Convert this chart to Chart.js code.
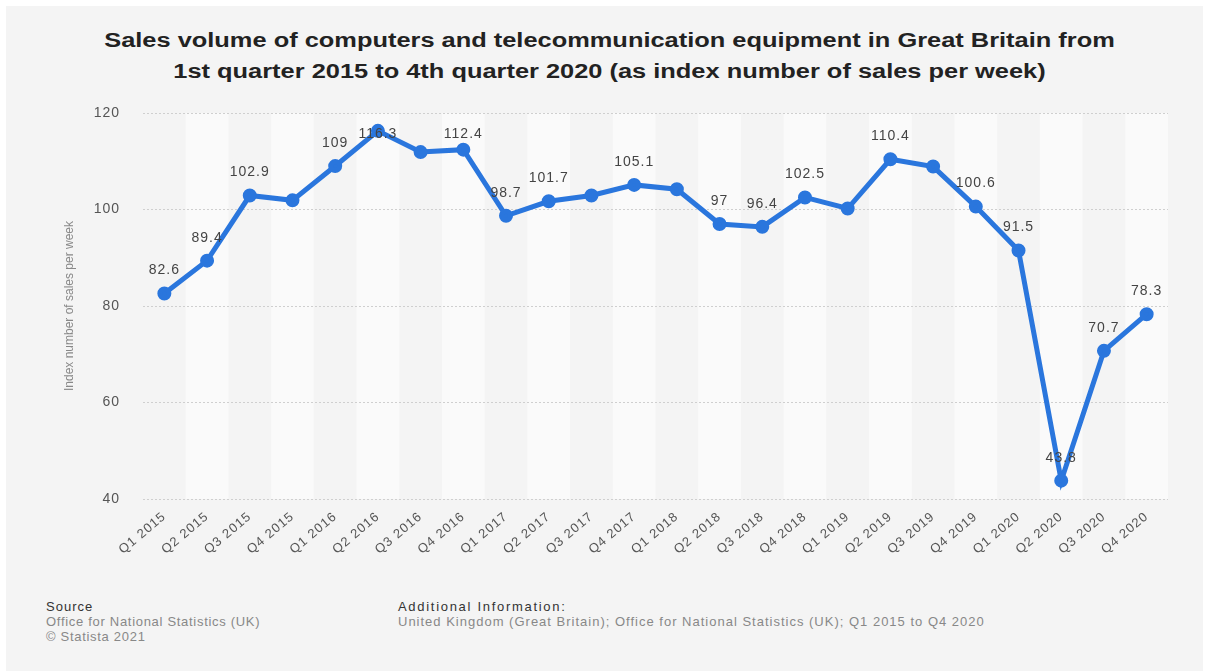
<!DOCTYPE html>
<html>
<head>
<meta charset="utf-8">
<script src="https://cdn.jsdelivr.net/npm/chart.js@4"></script>
<style>
  html, body { margin: 0; padding: 0; background: #fff; }
  #card {
    position: absolute; left: 6px; top: 6px; width: 1197px; height: 665px;
    background: #f4f4f4; font-family: "Liberation Sans", Arial, sans-serif;
  }
  #title {
    position: absolute; left: 5px; top: 19px; width: 1197px; text-align: center;
    font-weight: bold; font-size: 20px; line-height: 31px; color: #222;
    transform: scaleX(1.27); transform-origin: 50% 0;
  }
  #chart-box { position: absolute; left: 0; top: 84px; width: 1197px; height: 479px; }
  .foot { position: absolute; top: 593px; font-size: 13px; line-height: 15px; color: #888; letter-spacing: 0.7px; }
  .foot b { font-weight: normal; color: #333; }
</style>
</head>
<body>
<div id="card">
  <div id="title">Sales volume of computers and telecommunication equipment in Great Britain from<br>1st quarter 2015 to 4th quarter 2020 (as index number of sales per week)</div>
  <div id="chart-box"><canvas id="salesChart"></canvas></div>
  <div class="foot" style="left:40px"><b style="letter-spacing:1px">Source</b><br>Office for National Statistics (UK)<br>© Statista 2021</div>
  <div class="foot" style="left:392px; letter-spacing:1px"><b style="letter-spacing:1.7px">Additional Information:</b><br>United Kingdom (Great Britain); Office for National Statistics (UK); Q1 2015 to Q4 2020</div>
</div>
<script>
const quarters = [
  'Q1 2015', 'Q2 2015', 'Q3 2015', 'Q4 2015',
  'Q1 2016', 'Q2 2016', 'Q3 2016', 'Q4 2016',
  'Q1 2017', 'Q2 2017', 'Q3 2017', 'Q4 2017',
  'Q1 2018', 'Q2 2018', 'Q3 2018', 'Q4 2018',
  'Q1 2019', 'Q2 2019', 'Q3 2019', 'Q4 2019',
  'Q1 2020', 'Q2 2020', 'Q3 2020', 'Q4 2020'
];
const salesIndex = [
  82.6, 89.4, 102.9, 101.9,
  109, 116.3, 111.9, 112.4,
  98.7, 101.7, 102.9, 105.1,
  104.2, 97, 96.4, 102.5,
  100.2, 110.4, 108.9, 100.6,
  91.5, 43.8, 70.7, 78.3
];
// points that carry a value label
const labelledPoints = [0, 1, 2, 4, 5, 7, 8, 9, 11, 13, 14, 15, 17, 19, 20, 21, 22, 23];
const yTicks = [40, 60, 80, 100, 120];

const lineBlue = '#2a76dd';
const fontFamily = '"Liberation Sans", Arial, sans-serif';

// slightly wider lettering for all canvas text
const textSpacing = {
  id: 'textSpacing',
  beforeInit(chart) { chart.ctx.letterSpacing = '1px'; },
  beforeDraw(chart) { chart.ctx.letterSpacing = '1px'; }
};

// lighter stripe behind every second quarter
const columnStripes = {
  id: 'columnStripes',
  beforeDraw(chart) {
    const { ctx, chartArea } = chart;
    const x = chart.scales.x;
    const step = x.getPixelForValue(1) - x.getPixelForValue(0);
    ctx.save();
    ctx.fillStyle = '#fafafa';
    quarters.forEach((q, i) => {
      if (i % 2 === 1) {
        const cx = x.getPixelForValue(i);
        ctx.fillRect(cx - step / 2, chartArea.top, step, chartArea.bottom - chartArea.top);
      }
    });
    ctx.restore();
  }
};

const valueLabels = {
  id: 'valueLabels',
  afterDatasetsDraw(chart) {
    const { ctx, chartArea } = chart;
    const meta = chart.getDatasetMeta(0);
    ctx.save();
    ctx.font = '14px ' + fontFamily;
    ctx.fillStyle = '#444';
    ctx.textAlign = 'center';
    ctx.textBaseline = 'middle';
    labelledPoints.forEach(i => {
      const pt = meta.data[i];
      const y = Math.max(pt.y - 23, chartArea.top + 21);
      ctx.fillText(String(salesIndex[i]), pt.x, y);
    });
    ctx.restore();
  }
};

const axisTitle = {
  id: 'axisTitle',
  afterDraw(chart) {
    const { ctx, chartArea } = chart;
    ctx.save();
    ctx.letterSpacing = '0px';
    ctx.translate(chartArea.left - 73, (chartArea.top + chartArea.bottom) / 2);
    ctx.rotate(-Math.PI / 2);
    ctx.font = '12px ' + fontFamily;
    ctx.fillStyle = '#888';
    ctx.textAlign = 'center';
    ctx.textBaseline = 'middle';
    ctx.fillText('Index number of sales per week', 0, 0);
    ctx.restore();
  }
};

new Chart(document.getElementById('salesChart'), {
  type: 'line',
  data: {
    labels: quarters,
    datasets: [{
      data: salesIndex,
      borderColor: lineBlue,
      backgroundColor: lineBlue,
      borderWidth: 5,
      pointRadius: 4.5,
      pointHoverRadius: 4.5,
      tension: 0
    }]
  },
  options: {
    responsive: true,
    maintainAspectRatio: false,
    animation: false,
    layout: { padding: { top: 23, right: 35, left: 0, bottom: 0 } },
    plugins: { legend: { display: false }, tooltip: { enabled: false } },
    scales: {
      x: {
        offset: true,
        grid: { display: false },
        border: { display: false },
        ticks: {
          minRotation: 40, maxRotation: 40, padding: 2,
          color: '#555', font: { size: 13, family: fontFamily }
        },
        afterFit(scale) { scale.height = 70; }
      },
      y: {
        min: 40, max: 120,
        afterBuildTicks(scale) { scale.ticks = yTicks.map(v => ({ value: v })); },
        afterFit(scale) {
          scale.width = 137;
          // the label gap should not push the plot down
          scale.paddingTop = 8;
          scale.paddingBottom = 8;
        },
        border: { display: false, dash: [2, 2] },
        grid: { color: '#cfcfcf', lineWidth: 1, drawTicks: false },
        ticks: {
          padding: 23, color: '#555',
          font: { size: 14, family: fontFamily }
        }
      }
    }
  },
  plugins: [textSpacing, columnStripes, valueLabels, axisTitle]
});
</script>
</body>
</html>
